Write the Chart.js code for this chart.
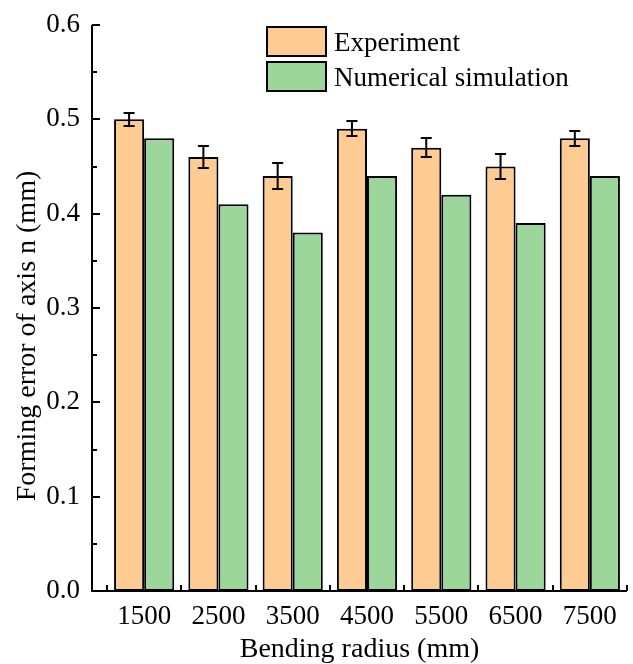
<!DOCTYPE html>
<html>
<head>
<meta charset="utf-8">
<script src="https://cdn.jsdelivr.net/npm/chart.js@4.4.0/dist/chart.umd.min.js"></script>
<style>
  html, body { margin: 0; padding: 0; background: #fff; }
  #wrap { width: 633px; height: 664px; }
</style>
</head>
<body>
<div id="wrap"><canvas id="chart" width="633" height="664"></canvas></div>
<script>
// bending radius groups and measured forming error of axis n
const radii = ['1500', '2500', '3500', '4500', '5500', '6500', '7500'];
const experiment = [0.50, 0.46, 0.44, 0.49, 0.47, 0.45, 0.48];
const experimentErr = [0.007, 0.012, 0.014, 0.008, 0.010, 0.013, 0.008];
const simulation = [0.48, 0.41, 0.38, 0.44, 0.42, 0.39, 0.44];
const yTicks = [0, 0.1, 0.2, 0.3, 0.4, 0.5, 0.6];

const FONT = '"Liberation Serif", "Times New Roman", serif';
const AXIS_GAP = 15; // y axis line sits a little left of the first group

// axes lines, inward ticks and the two axis titles
const axesPlugin = {
    id: 'axes',
    afterDraw(chart) {
        const { ctx, chartArea: a, scales: { x, y } } = chart;
        const left = a.left - AXIS_GAP;
        ctx.save();
        ctx.strokeStyle = '#000';
        ctx.lineWidth = 2;
        ctx.beginPath();
        ctx.moveTo(left, a.top);
        ctx.lineTo(left, a.bottom);
        ctx.lineTo(a.right, a.bottom);
        ctx.stroke();

        for (let k = 1; k <= 12; k++) {
            const py = Math.round(y.getPixelForValue(k * 0.05));
            ctx.beginPath();
            ctx.moveTo(left, py);
            ctx.lineTo(left + (k % 2 === 0 ? 8 : 5), py);
            ctx.stroke();
        }
        const step = x.getPixelForValue(1) - x.getPixelForValue(0);
        for (let i = 0; i <= radii.length; i++) {
            const px = Math.round(x.getPixelForValue(i) - step / 2);
            ctx.beginPath();
            ctx.moveTo(px, a.bottom);
            ctx.lineTo(px, a.bottom - 6);
            ctx.stroke();
        }

        ctx.fillStyle = '#000';
        ctx.font = '28px ' + FONT;
        ctx.textAlign = 'center';
        ctx.textBaseline = 'alphabetic';
        ctx.fillText('Bending radius (mm)', (left + a.right) / 2, 657);

        ctx.translate(35, 336);
        ctx.rotate(-Math.PI / 2);
        ctx.fillText('Forming error of axis n (mm)', 0, 0);
        ctx.restore();
    }
};

// error bars on the experiment series
const errorBarPlugin = {
    id: 'errorBars',
    afterDatasetsDraw(chart) {
        const { ctx, scales: { y } } = chart;
        const meta = chart.getDatasetMeta(0);
        ctx.save();
        ctx.strokeStyle = '#000';
        ctx.lineWidth = 2;
        meta.data.forEach((bar, i) => {
            const top = Math.round(y.getPixelForValue(experiment[i] + experimentErr[i]));
            const bot = Math.round(y.getPixelForValue(experiment[i] - experimentErr[i]));
            ctx.beginPath();
            ctx.moveTo(bar.x, top);
            ctx.lineTo(bar.x, bot);
            ctx.moveTo(bar.x - 5.5, top);
            ctx.lineTo(bar.x + 5.5, top);
            ctx.moveTo(bar.x - 5.5, bot);
            ctx.lineTo(bar.x + 5.5, bot);
            ctx.stroke();
        });
        ctx.restore();
    }
};

// boxed legend in the upper middle of the plot
const legendPlugin = {
    id: 'boxLegend',
    afterDraw(chart) {
        const { ctx } = chart;
        ctx.save();
        ctx.font = '27px ' + FONT;
        ctx.textBaseline = 'alphabetic';
        ctx.textAlign = 'left';
        chart.data.datasets.forEach((ds, i) => {
            const bx = 267, by = 27 + i * 35, bw = 59, bh = 29;
            ctx.fillStyle = ds.backgroundColor;
            ctx.fillRect(bx, by, bw, bh);
            ctx.strokeStyle = '#000';
            ctx.lineWidth = 2;
            ctx.strokeRect(bx, by, bw, bh);
            ctx.fillStyle = '#000';
            ctx.fillText(ds.label, 334, by + 24);
        });
        ctx.restore();
    }
};

new Chart(document.getElementById('chart'), {
    type: 'bar',
    data: {
        labels: radii,
        datasets: [{
            label: 'Experiment',
            data: experiment,
            backgroundColor: '#FECC92',
            borderColor: '#000',
            borderWidth: 2,
            borderSkipped: false
        }, {
            label: 'Numerical simulation',
            data: simulation,
            backgroundColor: '#9CD69B',
            borderColor: '#000',
            borderWidth: 2,
            borderSkipped: false
        }]
    },
    options: {
        responsive: false,
        animation: false,
        devicePixelRatio: 1,
        layout: { padding: { top: 25, right: 6, left: 0, bottom: 0 } },
        datasets: { bar: { categoryPercentage: 0.81, barPercentage: 1 } },
        plugins: {
            legend: { display: false },
            tooltip: { enabled: false }
        },
        scales: {
            x: {
                afterFit: (s) => { s.height = 73; s.paddingLeft = 0; s.paddingRight = 0; },
                grid: { display: false, drawTicks: false },
                border: { display: false },
                ticks: { color: '#000', font: { family: FONT, size: 27 }, padding: 10 }
            },
            y: {
                min: 0, max: 0.6,
                afterFit: (s) => { s.width = 107; s.paddingTop = 0; s.paddingBottom = 0; },
                afterBuildTicks: (s) => { s.ticks = yTicks.map(v => ({ value: v })); },
                grid: { display: false, drawTicks: false },
                border: { display: false },
                ticks: {
                    color: '#000', font: { family: FONT, size: 27 }, padding: 27,
                    callback: (v) => v.toFixed(1)
                }
            }
        }
    },
    plugins: [errorBarPlugin, axesPlugin, legendPlugin]
});
</script>
</body>
</html>
